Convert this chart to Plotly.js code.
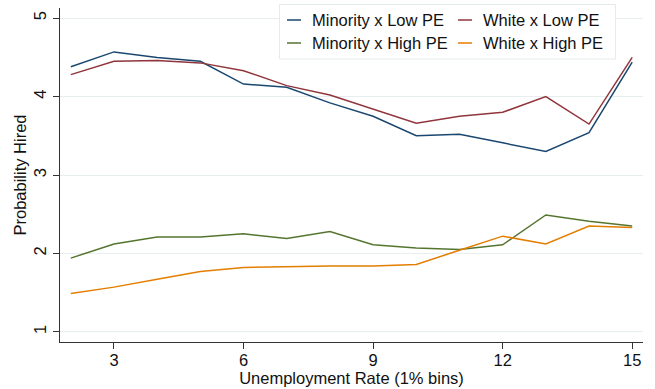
<!DOCTYPE html>
<html>
<head>
<meta charset="utf-8">
<script src="https://cdn.plot.ly/plotly-3.0.1.min.js"></script>
<style>
  html, body { margin: 0; padding: 0; background: #ffffff; }
  #chart { width: 655px; height: 389px; }
</style>
</head>
<body>
<div id="chart"></div>
<script>
// Unemployment-rate bins (1% wide)
const unemploymentBins = [2, 3, 4, 5, 6, 7, 8, 9, 10, 11, 12, 13, 14, 15];

// Probability hired by group
const minorityLowPE  = [4.38, 4.57, 4.50, 4.45, 4.16, 4.12, 3.92, 3.75, 3.50, 3.52, 3.41, 3.30, 3.54, 4.44];
const whiteLowPE     = [4.28, 4.45, 4.46, 4.43, 4.33, 4.14, 4.02, 3.84, 3.66, 3.75, 3.80, 4.00, 3.65, 4.50];
const minorityHighPE = [1.94, 2.12, 2.21, 2.21, 2.25, 2.19, 2.28, 2.11, 2.07, 2.05, 2.11, 2.49, 2.41, 2.35];
const whiteHighPE    = [1.49, 1.57, 1.67, 1.77, 1.82, 1.83, 1.84, 1.84, 1.86, 2.04, 2.22, 2.12, 2.35, 2.33];

const seriesNames = ["Minority x Low PE", "White x Low PE", "Minority x High PE", "White x High PE"];
const xTickValues = [3, 6, 9, 12, 15];
const yTickValues = [1, 2, 3, 4, 5];

const palette = ["#1a476f", "#90353b", "#55752f", "#e37e00"];
const seriesValues = [minorityLowPE, whiteLowPE, minorityHighPE, whiteHighPE];

const FONT = "Liberation Sans, Arial, sans-serif";
const FS = 16.5;

// Plot-area geometry in pixels (used to place the key box in paper units)
const W = 655, H = 389;
const M = { l: 60, r: 12, t: 8, b: 47 };
const plotW = W - M.l - M.r, plotH = H - M.t - M.b;
const px = v => (v - M.l) / plotW;
const py = v => (H - M.b - v) / plotH;

const traces = seriesValues.map((vals, i) => ({
  type: "scatter",
  mode: "lines",
  x: unemploymentBins,
  y: vals,
  name: seriesNames[i],
  line: { color: palette[i], width: 1.5 },
  hoverinfo: "skip",
  showlegend: false
}));

// Two-column key: Minority entries on the left, White entries on the right
const keyCols = [287, 458];
const keyRows = [20, 43];
const keyShapes = [{
  type: "rect", xref: "paper", yref: "paper", layer: "above",
  x0: px(279.5), x1: px(615.5), y0: py(59), y1: py(4.5),
  line: { color: "#e3ebed", width: 1 }, fillcolor: "#ffffff"
}];
const keyAnnotations = [];
seriesNames.forEach((name, i) => {
  const cx = keyCols[i % 2], cy = keyRows[Math.floor(i / 2)];
  keyShapes.push({
    type: "line", xref: "paper", yref: "paper", layer: "above",
    x0: px(cx), x1: px(cx + 14), y0: py(cy), y1: py(cy),
    line: { color: palette[i], width: 1.5 }
  });
  keyAnnotations.push({
    xref: "paper", yref: "paper", x: px(cx + 23), y: py(cy),
    xanchor: "left", yanchor: "middle", showarrow: false,
    text: name, font: { family: FONT, size: FS, color: "#111111" }
  });
});

const layout = {
  width: W,
  height: H,
  paper_bgcolor: "#ffffff",
  plot_bgcolor: "#ffffff",
  margin: M,
  font: { family: FONT, size: FS, color: "#111111" },
  showlegend: false,
  shapes: keyShapes,
  annotations: keyAnnotations,
  xaxis: {
    range: [1.75, 15.25],
    tickmode: "array",
    tickvals: xTickValues,
    ticktext: xTickValues.map(String),
    ticks: "outside",
    ticklen: 6,
    tickcolor: "#333333",
    ticklabelstandoff: -3,
    showline: true,
    linecolor: "#333333",
    linewidth: 1,
    showgrid: false,
    zeroline: false,
    tickfont: { family: FONT, size: FS, color: "#111111" },
    title: { text: "Unemployment Rate (1% bins)", font: { family: FONT, size: FS, color: "#111111" }, standoff: 2 }
  },
  yaxis: {
    range: [0.87, 5.13],
    tickmode: "array",
    tickvals: yTickValues,
    ticktext: yTickValues.map(String),
    tickangle: -90,
    ticks: "outside",
    ticklen: 6,
    tickcolor: "#333333",
    showline: true,
    linecolor: "#333333",
    linewidth: 1,
    showgrid: true,
    gridcolor: "#e6eef0",
    gridwidth: 1,
    zeroline: false,
    tickfont: { family: FONT, size: FS, color: "#111111" },
    title: { text: "Probability Hired", font: { family: FONT, size: FS, color: "#111111" }, standoff: 0 }
  }
};

Plotly.newPlot("chart", traces, layout, { displayModeBar: false, staticPlot: true });
</script>
</body>
</html>
